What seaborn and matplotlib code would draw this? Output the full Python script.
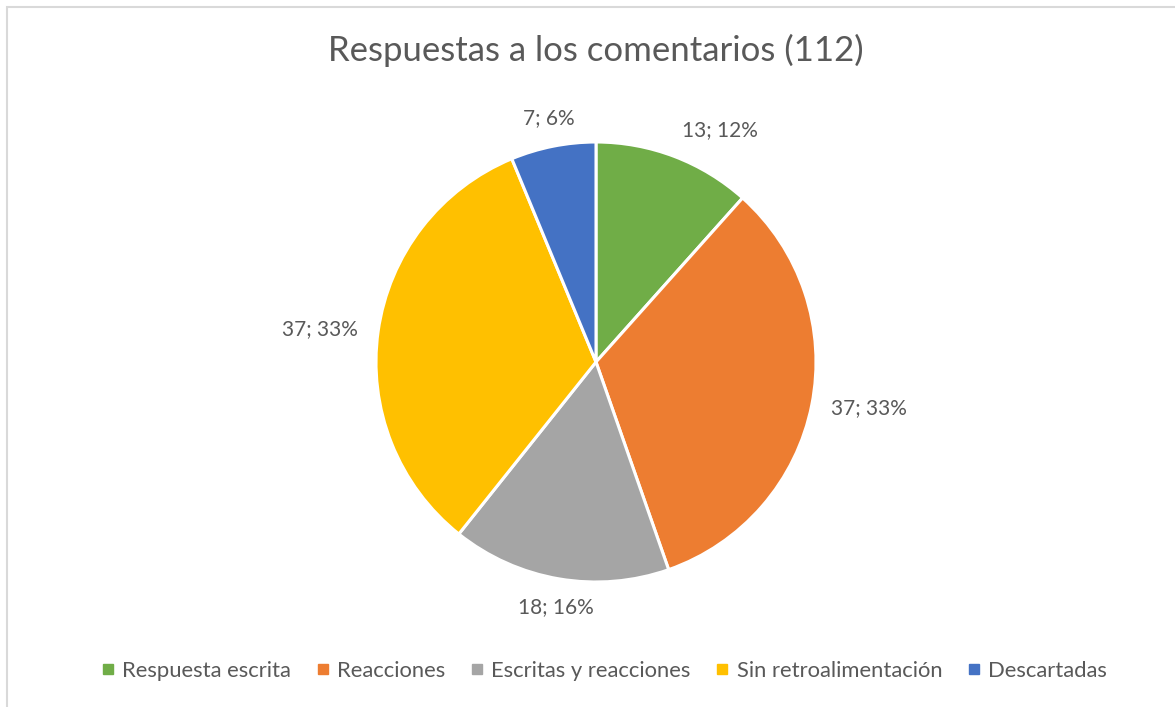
import numpy as np
import matplotlib
matplotlib.use("Agg")
import matplotlib.pyplot as plt
from matplotlib.lines import Line2D
from matplotlib.patches import Rectangle
import seaborn as sns

categories = ["Respuesta escrita", "Reacciones", "Escritas y reacciones",
              "Sin retroalimentación", "Descartadas"]
values = [13, 37, 18, 37, 7]
colors = ["#70AD47", "#ED7D31", "#A5A5A5", "#FFC000", "#4472C4"]
title = "Respuestas a los comentarios (112)"

sns.set_theme(style="white")
plt.rcParams['font.family'] = ['Lato', 'DejaVu Sans']
TXT = "#595959"

W, H = 1175, 707
fig = plt.figure(figsize=(W / 100, H / 100), dpi=100)
ax = fig.add_axes([0, 0, 1, 1])

cx, cy, R = 596, H - 362, 220
wedges, _ = ax.pie(values, colors=colors, startangle=90, counterclock=False,
                   center=(cx, cy), radius=R, frame=True,
                   wedgeprops=dict(edgecolor="white", linewidth=2.2))
ax.set_xlim(0, W)
ax.set_ylim(0, H)
ax.set_aspect("auto")
ax.axis("off")

total = sum(values)
for w, v in zip(wedges, values):
    mid = np.deg2rad((w.theta1 + w.theta2) / 2)
    c, s = np.cos(mid), np.sin(mid)
    lx, ly = cx + (R + 20) * c, cy + (R + 18) * s
    ha = "left" if c > 0.3 else ("right" if c < -0.3 else "center")
    va = "bottom" if s > 0.3 else ("top" if s < -0.3 else "center")
    ax.text(lx, ly, f"{v}; {round(100 * v / total)}%", ha=ha, va=va,
            fontsize=15, color=TXT)

fig.text(596 / W, 1 - 50 / H, title, ha="center", va="center",
         fontsize=25, color=TXT)

handles = [Line2D([0], [0], marker="s", linestyle="none", markersize=7.5,
                  markerfacecolor=col, markeredgecolor=col) for col in colors]
fig.legend(handles, categories, loc="center", bbox_to_anchor=(602 / W, 1 - 671 / H),
           ncol=5, frameon=False, fontsize=15.8, labelcolor=TXT,
           handletextpad=0.15, columnspacing=0.95, handlelength=1.0)

fig.patches.append(Rectangle((7 / W, -0.1), 1.2, (H - 7) / H + 0.1,
                             transform=fig.transFigure, fill=False,
                             edgecolor="#D9D9D9", linewidth=1.5))

fig.savefig("out.png", dpi=100, facecolor="white")
